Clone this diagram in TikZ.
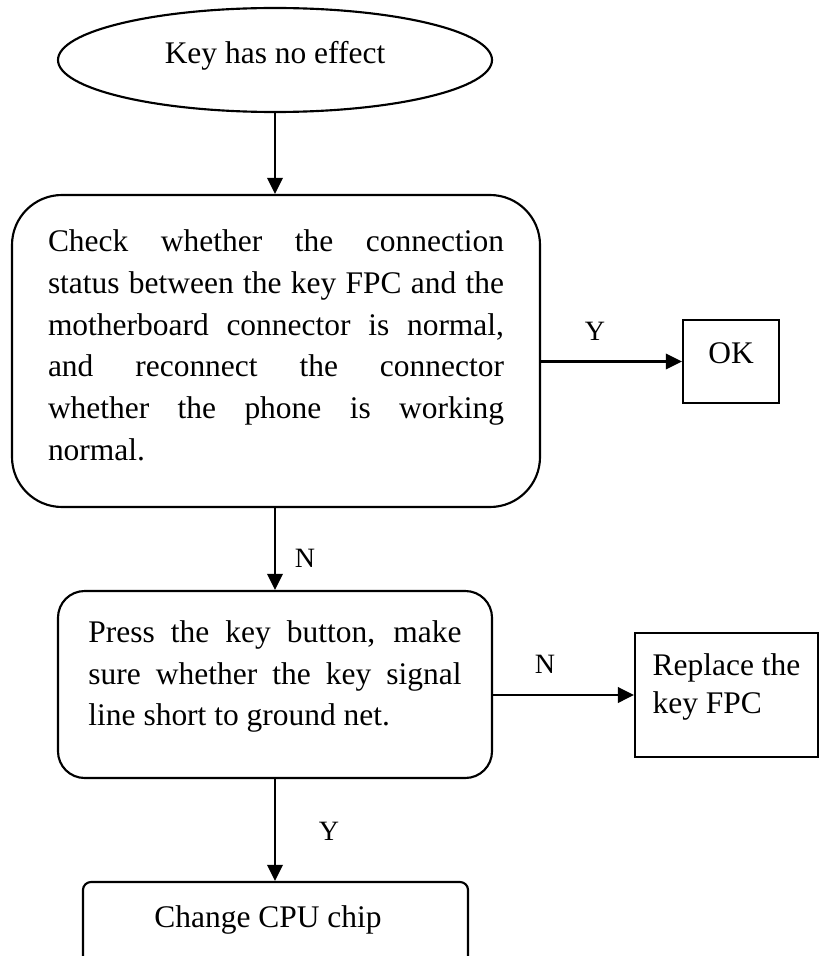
\documentclass[tikz,border=0pt]{standalone}
\usepackage{fontspec}
\setmainfont{Liberation Serif}
\usetikzlibrary{shapes.geometric,arrows.meta}

% extra room under the text, so the text sits a bit high in its box
\newcommand{\pad}[1]{\rule[-#1]{0pt}{0pt}}

\begin{document}
\begin{tikzpicture}[x=0.375pt, y=-0.375pt, line width=0.8pt,
    every node/.style={inner sep=0pt, font=\fontsize{11.8}{15.64}\selectfont},
    box/.style={draw, rectangle},
    arr/.style={-{Triangle[length=6pt,width=5.8pt]}},
    lbl/.style={font=\fontsize{10.5}{12}\selectfont}]
  \useasboundingbox (0,0) rectangle (819,956);

  \node[draw, ellipse, minimum width=162.75pt, minimum height=39pt] (start) at (275,60) {Key has no effect\pad{5.8pt}};
  \node[box, rounded corners=18.75pt, minimum width=198pt, minimum height=117pt,
        text width=171pt, align=justify] (check) at (276,351)
    {Check whether the connection\linebreak status between the key FPC and the\linebreak motherboard connector is normal,\linebreak and reconnect the connector\linebreak whether the phone is working\linebreak normal.\pad{4.5pt}};
  \node[box, minimum width=36pt, minimum height=31.125pt] (ok) at (731,361.5) {OK\pad{6pt}};
  \node[box, rounded corners=10pt, minimum width=162.75pt, minimum height=70.125pt,
        text width=139.9pt, align=justify] (press) at (275,684.5)
    {Press the key button, make\linebreak sure whether the key signal\linebreak line short to ground net.\pad{8.4pt}};
  \node[box, minimum width=68.6pt, minimum height=46.5pt, align=left,
        font=\fontsize{11.8}{14.25}\selectfont] (replace) at (726.5,695)
    {Replace the\\key FPC\pad{8.8pt}};
  \node[box, rounded corners=3pt, minimum width=144.4pt, minimum height=34.5pt] (cpu) at (275.5,928)
    {Change CPU chip\hspace{5.6pt}\pad{8.6pt}};

  \draw[arr] (start.south) -- (start.south |- check.north);
  \draw[arr] (check.east |- ok.west) -- (ok.west);
  \draw[arr] (press.north |- check.south) -- (press.north);
  \draw[arr] (press.east |- replace.west) -- (replace.west);
  \draw[arr] (press.south) -- (press.south |- cpu.north);

  \node[lbl] (y1) at (595,331.5) {Y};
  \node[lbl] (n1) at (305,558.5) {N};
  \node[lbl] (n2) at (545,664) {N};
  \node[lbl] (y2) at (329,831) {Y};
\end{tikzpicture}
\end{document}
